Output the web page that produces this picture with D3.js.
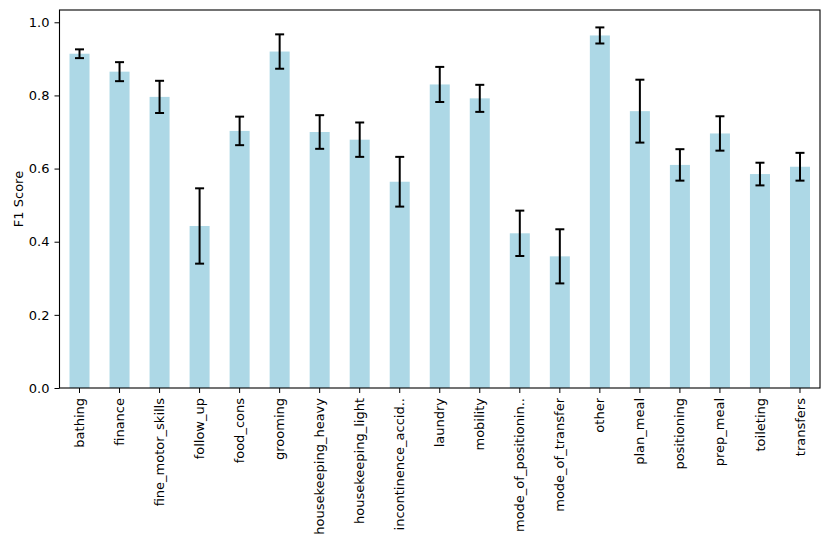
<!DOCTYPE html>
<html>
<head>
<meta charset="utf-8">
<script src="https://cdn.jsdelivr.net/npm/d3@7"></script>
<style>
  body { margin: 0; background: #fff; }
  svg { display: block; }
  svg text { font-family: "DejaVu Sans", sans-serif; }
</style>
</head>
<body>
<svg id="chart" width="830" height="551"></svg>
<script>
const categories = [
  "bathing", "finance", "fine_motor_skills", "follow_up", "food_cons",
  "grooming", "housekeeping_heavy", "housekeeping_light", "incontinence_accid..",
  "laundry", "mobility", "mode_of_positionin..", "mode_of_transfer", "other",
  "plan_meal", "positioning", "prep_meal", "toileting", "transfers"
];
const f1Scores = [
  0.914, 0.865, 0.796, 0.443, 0.703,
  0.920, 0.700, 0.679, 0.564,
  0.830, 0.792, 0.423, 0.360, 0.964,
  0.757, 0.610, 0.696, 0.585, 0.605
];
const f1Errors = [
  0.012, 0.026, 0.044, 0.103, 0.039,
  0.047, 0.046, 0.047, 0.068,
  0.048, 0.037, 0.062, 0.074, 0.022,
  0.086, 0.043, 0.047, 0.031, 0.038
];
const yTicks = [0.0, 0.2, 0.4, 0.6, 0.8, 1.0];

const width = 830, height = 551;
const margin = { top: 10, right: 10, bottom: 163, left: 59.5 };
const svg = d3.select("#chart");

const data = categories.map((c, i) => ({ name: c, value: f1Scores[i], err: f1Errors[i] }));

const xScale = d3.scaleBand()
  .domain(categories)
  .range([margin.left, width - margin.right])
  .paddingInner(0.5)
  .paddingOuter(0.25);

const yScale = d3.scaleLinear()
  .domain([0, 1.0336])
  .range([height - margin.bottom, margin.top]);

// Bars
svg.append("g")
  .selectAll("rect")
  .data(data)
  .enter()
  .append("rect")
  .attr("x", d => xScale(d.name))
  .attr("y", d => yScale(d.value))
  .attr("width", xScale.bandwidth())
  .attr("height", d => yScale(0) - yScale(d.value))
  .attr("fill", "#add8e6");

// Error bars
const capHalf = 4.5;
const errs = svg.append("g")
  .selectAll("g.err")
  .data(data)
  .enter()
  .append("g")
  .attr("class", "err")
  .attr("transform", d => `translate(${xScale(d.name) + xScale.bandwidth() / 2},0)`);

errs.append("line")
  .attr("x1", 0).attr("x2", 0)
  .attr("y1", d => yScale(d.value - d.err))
  .attr("y2", d => yScale(d.value + d.err))
  .attr("stroke", "black")
  .attr("stroke-width", 2);

errs.append("line")
  .attr("x1", -capHalf).attr("x2", capHalf)
  .attr("y1", d => yScale(d.value + d.err))
  .attr("y2", d => yScale(d.value + d.err))
  .attr("stroke", "black")
  .attr("stroke-width", 2);

errs.append("line")
  .attr("x1", -capHalf).attr("x2", capHalf)
  .attr("y1", d => yScale(d.value - d.err))
  .attr("y2", d => yScale(d.value - d.err))
  .attr("stroke", "black")
  .attr("stroke-width", 2);

// Axes
const xAxis = svg.append("g")
  .attr("transform", `translate(0,${height - margin.bottom})`)
  .call(d3.axisBottom(xScale).tickSizeOuter(0).tickSize(5).tickPadding(5));
xAxis.attr("font-family", null);
xAxis.select(".domain").remove();
xAxis.selectAll("text")
  .style("font-size", "13px")
  .style("fill", "#000")
  .attr("transform", "rotate(-90)")
  .attr("text-anchor", "end")
  .attr("x", -10)
  .attr("y", 0)
  .attr("dy", "0.35em");

const yAxis = svg.append("g")
  .attr("transform", `translate(${margin.left},0)`)
  .call(d3.axisLeft(yScale).tickValues(yTicks).tickFormat(d3.format(".1f")).tickSize(5).tickPadding(5));
yAxis.attr("font-family", null);
yAxis.select(".domain").remove();
yAxis.selectAll("text")
  .style("font-size", "13px")
  .style("fill", "#000");

// Frame
svg.append("rect")
  .attr("x", margin.left)
  .attr("y", margin.top)
  .attr("width", width - margin.right - margin.left)
  .attr("height", height - margin.bottom - margin.top)
  .attr("fill", "none")
  .attr("stroke", "#000")
  .attr("stroke-width", 1.1);

// Y label
svg.append("text")
  .attr("transform", "rotate(-90)")
  .attr("x", -(margin.top + (height - margin.bottom - margin.top) / 2))
  .attr("y", 18)
  .attr("dy", "0.35em")
  .attr("text-anchor", "middle")
  .style("font-size", "13px")
  .text("F1 Score");
</script>
</body>
</html>
